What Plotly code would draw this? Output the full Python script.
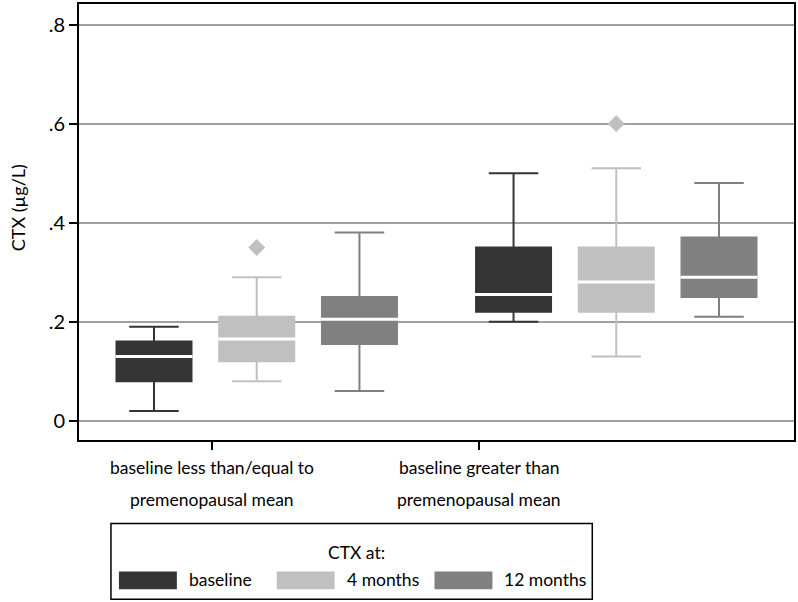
import plotly.graph_objects as go

# ---------------- data ----------------
group_lines = [["baseline less than/equal to", "premenopausal mean"],
               ["baseline greater than", "premenopausal mean"]]
series_names = ["baseline", "4 months", "12 months"]

baseline_lo = [0.02, 0.20]
baseline_q1 = [0.08, 0.22]
baseline_med = [0.13, 0.255]
baseline_q3 = [0.16, 0.35]
baseline_hi = [0.19, 0.50]

m4_lo = [0.08, 0.13]
m4_q1 = [0.12, 0.22]
m4_med = [0.165, 0.28]
m4_q3 = [0.21, 0.35]
m4_hi = [0.29, 0.51]
m4_outliers = [0.35, 0.60]

m12_lo = [0.06, 0.21]
m12_q1 = [0.155, 0.25]
m12_med = [0.205, 0.29]
m12_q3 = [0.25, 0.37]
m12_hi = [0.38, 0.48]

y_tickvals = [0, 0.2, 0.4, 0.6, 0.8]
y_ticktext = ["0", ".2", ".4", ".6", ".8"]
y_title = "CTX (µg/L)"
legend_title = "CTX at:"

# ---------------- styling ----------------
colors = ["#353535", "#c0c0c0", "#808080"]
FONT = "Lato, Open Sans, sans-serif"
FS = 17.5
W, H = 798, 602
ML, MR, MT, MB = 79, 3, 2, 162
PW, PH = W - ML - MR, H - MT - MB

group_centers = [2.0, 5.5]
offsets = [-1.0, 0.0, 1.0]
box_w = 0.73
tick_pos = [1.562, 4.167]

stats = [
    (baseline_lo, baseline_q1, baseline_med, baseline_q3, baseline_hi),
    (m4_lo, m4_q1, m4_med, m4_q3, m4_hi),
    (m12_lo, m12_q1, m12_med, m12_q3, m12_hi),
]


def px_x(px):
    return (px - ML) / PW


def px_y(py):
    return (H - MB - py) / PH


fig = go.Figure()

for i, (lo, q1, med, q3, hi) in enumerate(stats):
    xs = [c + offsets[i] for c in group_centers]
    fig.add_trace(go.Box(
        x=xs, lowerfence=lo, q1=q1, median=med, q3=q3, upperfence=hi,
        name=series_names[i], fillcolor=colors[i],
        line=dict(color=colors[i], width=2), width=box_w,
        whiskerwidth=0.66, boxpoints=False, showlegend=False,
        hoverinfo="skip",
    ))

# white median lines
for i, (lo, q1, med, q3, hi) in enumerate(stats):
    mx, my = [], []
    for g, c in enumerate(group_centers):
        x = c + offsets[i]
        mx += [x - box_w / 2 - 0.01, x + box_w / 2 + 0.01, None]
        my += [med[g], med[g], None]
    fig.add_trace(go.Scatter(x=mx, y=my, mode="lines",
                             line=dict(color="white", width=3),
                             showlegend=False, hoverinfo="skip"))

# outliers (4 months)
fig.add_trace(go.Scatter(
    x=[c + offsets[1] for c in group_centers], y=m4_outliers, mode="markers",
    marker=dict(symbol="diamond", size=13, color=colors[1]),
    showlegend=False, hoverinfo="skip"))

fig.update_layout(
    width=W, height=H,
    margin=dict(l=ML, r=MR, t=MT, b=MB),
    paper_bgcolor="white", plot_bgcolor="white",
    font=dict(family=FONT, size=FS, color="black"),
    boxmode="overlay",
    showlegend=False,
)

fig.update_xaxes(range=[0.27, 7.23], tickvals=tick_pos, ticktext=["", ""],
                 ticks="outside", ticklen=8, tickwidth=1.5, tickcolor="black",
                 showline=True, linecolor="black", linewidth=2, mirror=True,
                 showgrid=False, zeroline=False)
fig.update_yaxes(range=[-0.0388, 0.8416], tickvals=y_tickvals, ticktext=y_ticktext,
                 ticks="outside", ticklen=8, tickwidth=1.5, tickcolor="black",
                 showline=True, linecolor="black", linewidth=2, mirror=True,
                 showgrid=True, gridcolor="#a0a0a0", gridwidth=1.5,
                 zeroline=False, tickfont=dict(size=20))

ann = []
# y title
ann.append(dict(x=px_x(18), y=px_y(207), xref="paper", yref="paper",
                text=y_title, textangle=-90, showarrow=False,
                xanchor="center", yanchor="middle", font=dict(size=18)))
# category labels
for g, lines in enumerate(group_lines):
    for k, line in enumerate(lines):
        ann.append(dict(x=tick_pos[g], y=px_y(468 + 32 * k), xref="x", yref="paper",
                        text=line, showarrow=False, xanchor="center",
                        yanchor="middle"))

# manual legend
shapes = [dict(type="rect", xref="paper", yref="paper",
               x0=px_x(111), x1=px_x(593), y0=px_y(600), y1=px_y(524),
               line=dict(color="black", width=1.5), fillcolor="white")]
ann.append(dict(x=px_x(357), y=px_y(553), xref="paper", yref="paper",
                text=legend_title, showarrow=False, xanchor="center",
                yanchor="middle"))
sw_x = [119, 277, 435]
lab_x = [187, 345, 503]
for i, name in enumerate(series_names):
    shapes.append(dict(type="rect", xref="paper", yref="paper",
                       x0=px_x(sw_x[i]), x1=px_x(sw_x[i] + 58),
                       y0=px_y(590), y1=px_y(572),
                       line=dict(width=0), fillcolor=colors[i]))
    ann.append(dict(x=px_x(lab_x[i]), y=px_y(580), xref="paper", yref="paper",
                    text=name, showarrow=False, xanchor="left",
                    yanchor="middle"))

fig.update_layout(annotations=ann, shapes=shapes)

fig.write_html("out.html", config={"displayModeBar": False},
               post_script="document.body.style.margin='0';document.body.style.overflow='hidden';")
